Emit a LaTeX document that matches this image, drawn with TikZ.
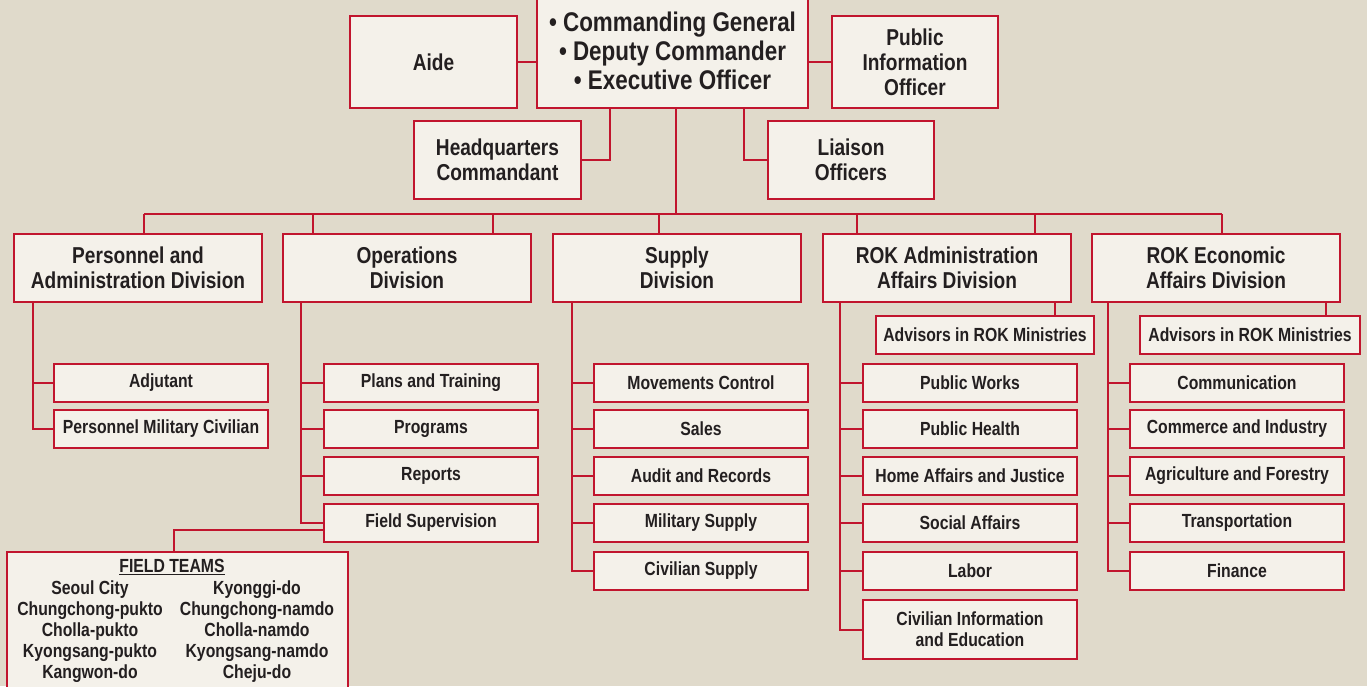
\documentclass[tikz,border=0pt]{standalone}
\usepackage{fontspec}
\newfontfamily\chartfont{Liberation Sans}[FakeStretch=0.83]
\definecolor{chartred}{HTML}{C1152E}
\definecolor{boxfill}{HTML}{F4F1EA}
\definecolor{stonebg}{HTML}{E0DACB}
\definecolor{inkgray}{HTML}{231F20}
\tikzset{
  unitbox/.style={draw=chartred, line width=2pt, fill=boxfill, align=center, inner sep=0pt, text=inkgray},
  topbox/.style={unitbox, font=\chartfont\bfseries\fontsize{23}{25}\selectfont},
  divbox/.style={topbox, minimum width=248, minimum height=68},
  subbox/.style={unitbox, font=\chartfont\bfseries\fontsize{19}{21}\selectfont, minimum width=214, minimum height=38},
  link/.style={draw=chartred, line width=2pt},
}
\begin{document}
\begin{tikzpicture}[x=1pt,y=-1pt]
	\useasboundingbox (0,0) rectangle (1367,686);
	\clip (0,0) rectangle (1367,686);
	\fill[stonebg] (0,0) rectangle (1367,686);
	% command group
	\node[topbox, minimum width=271, minimum height=114, font=\chartfont\bfseries\fontsize{27}{29}\selectfont] (cg) at (672.5,51) {\textbullet\ Commanding General\\\textbullet\ Deputy Commander\\\textbullet\ Executive Officer};
	\node[topbox, minimum width=167, minimum height=92] (aide) at (433.5,62) {Aide};
	\node[topbox, minimum width=166, minimum height=92] (pio) at (915,62) {Public\\Information\\Officer};
	\node[topbox, minimum width=167, minimum height=78] (hq) at (497.5,160) {Headquarters\\Commandant};
	\node[topbox, minimum width=166, minimum height=78] (liaison) at (851,160) {Liaison\\Officers};
	\coordinate (hqtap) at (610,108);
	\coordinate (litap) at (744,108);
	\coordinate (trunk) at (676,108);
	\draw[link] (aide.east) -- (aide.east -| cg.west);
	\draw[link] (pio.west) -- (pio.west -| cg.east);
	\draw[link] (hq.east) -| (hqtap);
	\draw[link] (liaison.west) -| (litap);
	% divisions
	\node[divbox] (pad) at (138,268) {Personnel and\\Administration Division};
	\node[divbox] (ops) at (407,268) {Operations\\Division};
	\node[divbox] (sup) at (677,268) {Supply\\Division};
	\node[divbox] (adm) at (947,268) {ROK Administration\\Affairs Division};
	\node[divbox] (eco) at (1216,268) {ROK Economic\\Affairs Division};
	\coordinate (busw) at (144,214);
	\coordinate (buse) at (1222,214);
	\draw[link] (trunk) -- (trunk |- busw);
	\draw[link] (busw) -- (buse);
	\foreach \x/\d in {144/pad,313/ops,493/ops,659/sup,857/adm,1035/adm,1222/eco}
		\draw[link] (\x,214) -- (\d.north -| \x,0);
	% advisors
	\node[subbox, minimum width=218] (admadv) at (985,335) {Advisors in ROK Ministries};
	\node[subbox, minimum width=220] (ecoadv) at (1250,335) {Advisors in ROK Ministries};
	\draw[link] (adm.south -| 1055,0) -- (admadv.north -| 1055,0);
	\draw[link] (eco.south -| 1326,0) -- (ecoadv.north -| 1326,0);
	% personnel and administration
	\node[subbox] (adj) at (161,383) {Adjutant};
	\node[subbox] (pmc) at (161,429) {Personnel Military Civilian};
	\foreach \b in {adj,pmc}
		\draw[link] (pad.south -| 33,0) |- (\b.west);
	% operations
	\node[subbox] (plans) at (431,383) {Plans and Training};
	\node[subbox] (progs) at (431,429) {Programs};
	\node[subbox] (reps) at (431,476) {Reports};
	\node[subbox] (fsup) at (431,523) {Field Supervision};
	\foreach \b in {plans,progs,reps,fsup}
		\draw[link] (ops.south -| 301,0) |- (\b.west);
	% field teams
	\node[unitbox, minimum width=341, minimum height=150] (teams) at (177.5,627) {};
	\node[font=\chartfont\bfseries\fontsize{19}{21}\selectfont, text=inkgray] (teamstitle) at (172,567) {\underline{FIELD TEAMS}};
	\node[font=\chartfont\bfseries\fontsize{19}{21}\selectfont, text=inkgray, align=center] (teamsw) at (90,632) {Seoul City\\Chungchong-pukto\\Cholla-pukto\\Kyongsang-pukto\\Kangwon-do};
	\node[font=\chartfont\bfseries\fontsize{19}{21}\selectfont, text=inkgray, align=center] (teamse) at (257,632) {Kyonggi-do\\Chungchong-namdo\\Cholla-namdo\\Kyongsang-namdo\\Cheju-do};
	\draw[link] (fsup.west |- 0,530) -| (teams.north -| 174,0);
	% supply
	\node[subbox] (movc) at (701,383) {Movements Control};
	\node[subbox] (sales) at (701,429) {Sales};
	\node[subbox] (audit) at (701,476) {Audit and Records};
	\node[subbox] (milsup) at (701,523) {Military Supply};
	\node[subbox] (civsup) at (701,571) {Civilian Supply};
	\foreach \b in {movc,sales,audit,milsup,civsup}
		\draw[link] (sup.south -| 572,0) |- (\b.west);
	% rok administration
	\node[subbox] (works) at (970,383) {Public Works};
	\node[subbox] (health) at (970,429) {Public Health};
	\node[subbox] (justice) at (970,476) {Home Affairs and Justice};
	\node[subbox] (social) at (970,523) {Social Affairs};
	\node[subbox] (labor) at (970,571) {Labor};
	\node[subbox, minimum height=59] (civinfo) at (970,629.5) {Civilian Information\\and Education};
	\foreach \b in {works,health,justice,social,labor,civinfo}
		\draw[link] (adm.south -| 840,0) |- (\b.west);
	% rok economic
	\node[subbox] (comm) at (1237,383) {Communication};
	\node[subbox] (commerce) at (1237,429) {Commerce and Industry};
	\node[subbox] (agri) at (1237,476) {Agriculture and Forestry};
	\node[subbox] (trans) at (1237,523) {Transportation};
	\node[subbox] (fin) at (1237,571) {Finance};
	\foreach \b in {comm,commerce,agri,trans,fin}
		\draw[link] (eco.south -| 1108,0) |- (\b.west);
\end{tikzpicture}
\end{document}
